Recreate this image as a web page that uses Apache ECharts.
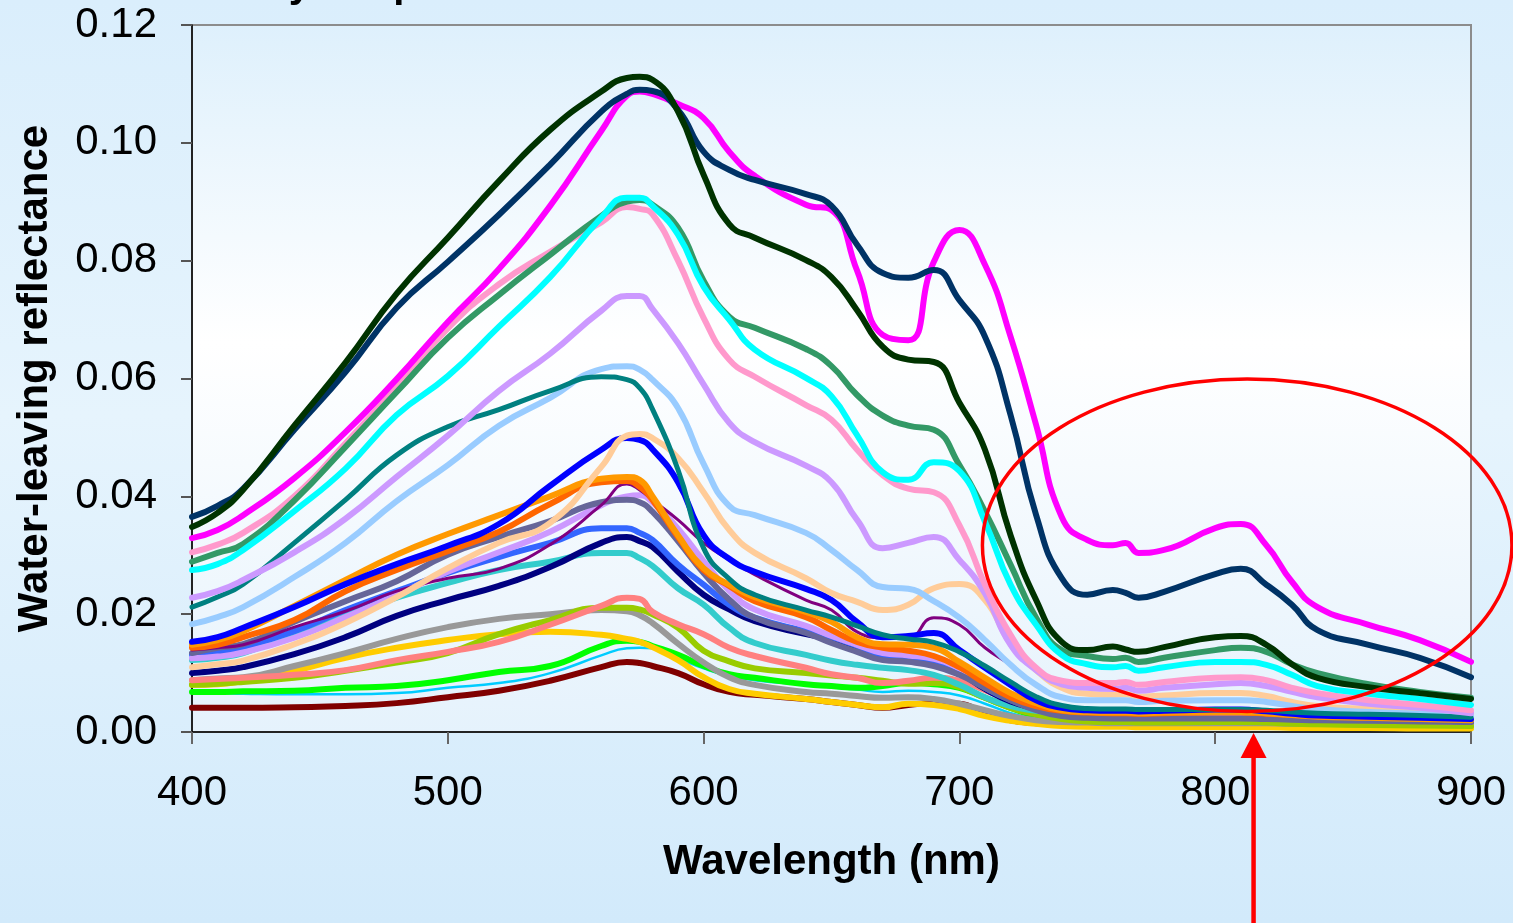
<!DOCTYPE html>
<html>
<head>
<meta charset="utf-8">
<title>Water-leaving reflectance</title>
<script src="https://cdn.jsdelivr.net/npm/echarts@6.0.0/dist/echarts.min.js"></script>
<style>
  html, body { margin: 0; padding: 0; overflow: hidden; }
  body { background: linear-gradient(to bottom, #daeefc 0%, #e6f4fd 45%, #d2eafb 100%); }
  #chart { width: 1513px; height: 923px; }
</style>
</head>
<body>
<div id="chart"></div>
<script>
// wavelengths (nm) the curves were read at
const wavelengths = [400,410,420,440,460,480,500,520,540,560,570,575,580,590,600,610,620,640,650,660,670,680,690,700,710,720,730,740,750,760,765,770,780,800,810,820,830,840,860,880,900];

// water-leaving reflectance, one array per station
const darkGreen = [0.0348,0.0372,0.0411,0.0520,0.0627,0.0744,0.0839,0.0935,0.1022,0.1087,0.1110,0.1112,0.1107,0.1053,0.0946,0.0862,0.0839,0.0801,0.0772,0.0716,0.0654,0.0632,0.0628,0.0559,0.0479,0.0334,0.0224,0.0153,0.0139,0.0145,0.0140,0.0136,0.0144,0.0161,0.0163,0.0148,0.0115,0.0092,0.0076,0.0066,0.0056];
const navyDark = [0.0365,0.0384,0.0413,0.0513,0.0611,0.0720,0.0798,0.0878,0.0963,0.1053,0.1083,0.1090,0.1088,0.1056,0.0985,0.0954,0.0937,0.0913,0.0893,0.0827,0.0779,0.0771,0.0784,0.0733,0.0671,0.0538,0.0368,0.0261,0.0233,0.0241,0.0236,0.0228,0.0238,0.0268,0.0277,0.0250,0.0216,0.0173,0.0148,0.0126,0.0093];
const magenta = [0.0329,0.0343,0.0368,0.0431,0.0509,0.0599,0.0696,0.0786,0.0893,0.1020,0.1080,0.1087,0.1083,0.1066,0.1042,0.0985,0.0944,0.0895,0.0886,0.0783,0.0674,0.0665,0.0798,0.0852,0.0793,0.0671,0.0521,0.0365,0.0326,0.0317,0.0321,0.0304,0.0309,0.0346,0.0353,0.0317,0.0255,0.0212,0.0182,0.0156,0.0119];
const cyan = [0.0275,0.0285,0.0309,0.0375,0.0447,0.0538,0.0604,0.0688,0.0772,0.0873,0.0907,0.0907,0.0893,0.0844,0.0756,0.0700,0.0649,0.0601,0.0570,0.0504,0.0441,0.0428,0.0458,0.0443,0.0357,0.0250,0.0182,0.0131,0.0115,0.0110,0.0112,0.0104,0.0110,0.0119,0.0119,0.0114,0.0097,0.0078,0.0065,0.0056,0.0046];
const seaGreen = [0.0289,0.0304,0.0319,0.0393,0.0484,0.0577,0.0669,0.0742,0.0810,0.0876,0.0900,0.0903,0.0895,0.0856,0.0766,0.0705,0.0686,0.0650,0.0621,0.0572,0.0537,0.0520,0.0513,0.0453,0.0374,0.0284,0.0194,0.0139,0.0129,0.0124,0.0126,0.0119,0.0126,0.0139,0.0143,0.0136,0.0115,0.0100,0.0081,0.0068,0.0058];
const pink = [0.0305,0.0318,0.0338,0.0400,0.0490,0.0585,0.0685,0.0760,0.0815,0.0865,0.0891,0.0888,0.0879,0.0800,0.0703,0.0632,0.0603,0.0555,0.0530,0.0479,0.0436,0.0413,0.0407,0.0351,0.0250,0.0165,0.0109,0.0087,0.0083,0.0083,0.0085,0.0080,0.0085,0.0092,0.0093,0.0088,0.0075,0.0066,0.0054,0.0046,0.0037];
const lavender = [0.0228,0.0239,0.0258,0.0305,0.0362,0.0433,0.0503,0.0579,0.0642,0.0715,0.0740,0.0740,0.0718,0.0660,0.0590,0.0525,0.0492,0.0452,0.0424,0.0360,0.0312,0.0321,0.0331,0.0292,0.0235,0.0148,0.0105,0.0081,0.0075,0.0073,0.0075,0.0070,0.0075,0.0081,0.0083,0.0078,0.0068,0.0059,0.0048,0.0041,0.0032];
const teal = [0.0212,0.0229,0.0251,0.0321,0.0394,0.0470,0.0518,0.0547,0.0579,0.0603,0.0598,0.0584,0.0548,0.0445,0.0312,0.0260,0.0233,0.0207,0.0195,0.0180,0.0165,0.0158,0.0152,0.0136,0.0112,0.0085,0.0060,0.0045,0.0040,0.0039,0.0039,0.0038,0.0038,0.0038,0.0038,0.0037,0.0034,0.0032,0.0030,0.0028,0.0025];
const lightBlue = [0.0183,0.0195,0.0212,0.0263,0.0321,0.0392,0.0453,0.0520,0.0567,0.0616,0.0621,0.0615,0.0598,0.0550,0.0455,0.0384,0.0368,0.0338,0.0309,0.0275,0.0246,0.0243,0.0222,0.0194,0.0156,0.0114,0.0080,0.0059,0.0054,0.0054,0.0054,0.0051,0.0053,0.0054,0.0054,0.0051,0.0044,0.0039,0.0034,0.0031,0.0027];
const peach = [0.0110,0.0115,0.0121,0.0149,0.0185,0.0229,0.0278,0.0321,0.0355,0.0450,0.0503,0.0506,0.0499,0.0465,0.0407,0.0343,0.0304,0.0261,0.0236,0.0221,0.0207,0.0216,0.0244,0.0251,0.0224,0.0150,0.0105,0.0075,0.0065,0.0063,0.0064,0.0060,0.0062,0.0066,0.0066,0.0061,0.0051,0.0044,0.0039,0.0036,0.0032];
const blue = [0.0153,0.0161,0.0177,0.0212,0.0251,0.0285,0.0316,0.0353,0.0418,0.0479,0.0499,0.0496,0.0480,0.0424,0.0334,0.0294,0.0272,0.0243,0.0224,0.0187,0.0161,0.0163,0.0168,0.0139,0.0109,0.0080,0.0054,0.0041,0.0037,0.0036,0.0036,0.0035,0.0036,0.0038,0.0038,0.0035,0.0031,0.0028,0.0026,0.0024,0.0022];
const orange = [0.0148,0.0156,0.0171,0.0214,0.0258,0.0301,0.0336,0.0368,0.0400,0.0430,0.0433,0.0428,0.0400,0.0334,0.0278,0.0250,0.0229,0.0204,0.0187,0.0161,0.0149,0.0148,0.0143,0.0119,0.0092,0.0066,0.0049,0.0037,0.0034,0.0033,0.0033,0.0032,0.0033,0.0034,0.0034,0.0032,0.0029,0.0026,0.0024,0.0022,0.0020];
const darkOrange = [0.0143,0.0148,0.0161,0.0190,0.0239,0.0275,0.0307,0.0340,0.0387,0.0424,0.0426,0.0416,0.0394,0.0331,0.0275,0.0248,0.0222,0.0195,0.0173,0.0153,0.0143,0.0138,0.0129,0.0110,0.0083,0.0059,0.0044,0.0036,0.0033,0.0032,0.0032,0.0031,0.0032,0.0033,0.0033,0.0031,0.0029,0.0027,0.0025,0.0024,0.0023];
const purple = [0.0139,0.0143,0.0148,0.0178,0.0205,0.0239,0.0261,0.0277,0.0318,0.0385,0.0421,0.0411,0.0394,0.0360,0.0321,0.0292,0.0267,0.0224,0.0207,0.0170,0.0160,0.0160,0.0194,0.0182,0.0143,0.0114,0.0081,0.0059,0.0053,0.0053,0.0053,0.0051,0.0053,0.0054,0.0054,0.0051,0.0044,0.0039,0.0034,0.0031,0.0025];
const slate = [0.0134,0.0143,0.0149,0.0187,0.0222,0.0256,0.0301,0.0331,0.0358,0.0390,0.0394,0.0390,0.0374,0.0324,0.0270,0.0225,0.0194,0.0168,0.0151,0.0136,0.0122,0.0119,0.0112,0.0097,0.0075,0.0054,0.0037,0.0027,0.0024,0.0023,0.0023,0.0023,0.0023,0.0023,0.0023,0.0022,0.0021,0.0020,0.0019,0.0018,0.0017];
const lavender2 = [0.0125,0.0128,0.0135,0.0160,0.0195,0.0232,0.0272,0.0305,0.0340,0.0385,0.0400,0.0402,0.0390,0.0345,0.0290,0.0240,0.0208,0.0180,0.0163,0.0148,0.0134,0.0130,0.0124,0.0108,0.0083,0.0060,0.0043,0.0033,0.0029,0.0028,0.0028,0.0027,0.0028,0.0029,0.0029,0.0027,0.0025,0.0024,0.0022,0.0021,0.0020];
const royalBlue = [0.0131,0.0136,0.0144,0.0171,0.0207,0.0239,0.0270,0.0297,0.0321,0.0346,0.0346,0.0338,0.0326,0.0284,0.0250,0.0216,0.0194,0.0171,0.0161,0.0146,0.0127,0.0126,0.0117,0.0102,0.0075,0.0054,0.0041,0.0032,0.0030,0.0029,0.0029,0.0028,0.0029,0.0030,0.0030,0.0028,0.0026,0.0024,0.0022,0.0021,0.0020];
const navy = [0.0100,0.0104,0.0110,0.0132,0.0161,0.0197,0.0224,0.0248,0.0280,0.0321,0.0331,0.0324,0.0314,0.0272,0.0233,0.0208,0.0188,0.0166,0.0157,0.0143,0.0125,0.0122,0.0114,0.0100,0.0073,0.0052,0.0040,0.0031,0.0028,0.0027,0.0027,0.0026,0.0027,0.0028,0.0028,0.0026,0.0024,0.0022,0.0021,0.0020,0.0018];
const turquoise = [0.0122,0.0126,0.0134,0.0166,0.0197,0.0228,0.0253,0.0275,0.0289,0.0304,0.0304,0.0295,0.0282,0.0244,0.0216,0.0177,0.0151,0.0131,0.0121,0.0114,0.0109,0.0105,0.0097,0.0080,0.0059,0.0044,0.0036,0.0031,0.0029,0.0028,0.0028,0.0027,0.0028,0.0028,0.0028,0.0027,0.0025,0.0023,0.0021,0.0020,0.0018];
const salmon = [0.0088,0.0090,0.0092,0.0097,0.0105,0.0122,0.0136,0.0153,0.0182,0.0214,0.0228,0.0226,0.0204,0.0183,0.0166,0.0143,0.0129,0.0109,0.0098,0.0092,0.0083,0.0087,0.0092,0.0087,0.0071,0.0054,0.0041,0.0032,0.0029,0.0028,0.0028,0.0027,0.0028,0.0029,0.0029,0.0027,0.0025,0.0023,0.0021,0.0019,0.0017];
const yellowGreen = [0.0080,0.0082,0.0085,0.0092,0.0104,0.0118,0.0134,0.0166,0.0190,0.0211,0.0211,0.0208,0.0200,0.0177,0.0138,0.0120,0.0108,0.0100,0.0096,0.0092,0.0087,0.0082,0.0083,0.0076,0.0058,0.0041,0.0030,0.0022,0.0018,0.0017,0.0017,0.0016,0.0016,0.0017,0.0017,0.0016,0.0014,0.0013,0.0012,0.0011,0.0010];
const gray = [0.0088,0.0091,0.0093,0.0112,0.0134,0.0158,0.0178,0.0192,0.0200,0.0207,0.0205,0.0198,0.0185,0.0150,0.0118,0.0093,0.0080,0.0068,0.0065,0.0061,0.0058,0.0059,0.0056,0.0048,0.0037,0.0027,0.0020,0.0017,0.0016,0.0015,0.0015,0.0015,0.0015,0.0015,0.0015,0.0015,0.0014,0.0014,0.0013,0.0013,0.0012];
const gold = [0.0080,0.0081,0.0087,0.0104,0.0126,0.0143,0.0156,0.0166,0.0170,0.0165,0.0158,0.0153,0.0144,0.0122,0.0093,0.0073,0.0065,0.0056,0.0051,0.0046,0.0042,0.0048,0.0046,0.0039,0.0027,0.0019,0.0014,0.0010,0.0009,0.0009,0.0009,0.0008,0.0008,0.0008,0.0008,0.0008,0.0007,0.0007,0.0007,0.0006,0.0006];
const green = [0.0068,0.0068,0.0069,0.0070,0.0075,0.0078,0.0088,0.0102,0.0112,0.0146,0.0155,0.0153,0.0146,0.0131,0.0112,0.0098,0.0092,0.0081,0.0078,0.0075,0.0078,0.0083,0.0081,0.0075,0.0058,0.0041,0.0027,0.0020,0.0017,0.0016,0.0016,0.0015,0.0015,0.0015,0.0015,0.0014,0.0013,0.0012,0.0011,0.0011,0.0010];
const sky = [0.0066,0.0066,0.0065,0.0064,0.0064,0.0066,0.0075,0.0083,0.0100,0.0130,0.0142,0.0143,0.0142,0.0125,0.0108,0.0095,0.0088,0.0080,0.0076,0.0072,0.0068,0.0070,0.0068,0.0062,0.0048,0.0032,0.0021,0.0015,0.0013,0.0012,0.0012,0.0012,0.0012,0.0012,0.0012,0.0011,0.0010,0.0010,0.0009,0.0009,0.0008];
const maroon = [0.0041,0.0041,0.0041,0.0042,0.0044,0.0049,0.0059,0.0070,0.0087,0.0110,0.0119,0.0117,0.0112,0.0100,0.0081,0.0068,0.0063,0.0056,0.0051,0.0046,0.0041,0.0046,0.0049,0.0048,0.0031,0.0020,0.0015,0.0012,0.0011,0.0011,0.0011,0.0010,0.0010,0.0010,0.0010,0.0010,0.0009,0.0009,0.0009,0.0008,0.0008];

// drawing order, bottom first: [values, colour, line width]
const curves = [
  [maroon, '#800000', 6], [sky, '#00CCFF', 2.5], [green, '#00FF00', 6], [gold, '#FFCC00', 6],
  [gray, '#999999', 6], [yellowGreen, '#99CC00', 6], [salmon, '#FF8080', 6], [turquoise, '#33CCCC', 6],
  [navy, '#000080', 6], [royalBlue, '#3366FF', 6], [lavender2, '#CC99FF', 6], [slate, '#666699', 6],
  [purple, '#800080', 3], [darkOrange, '#FF6600', 6], [orange, '#FF9900', 6], [blue, '#0000FF', 6],
  [peach, '#FFCC99', 6], [lightBlue, '#99CCFF', 6], [teal, '#008080', 5], [lavender, '#CC99FF', 6],
  [pink, '#FF99CC', 6], [seaGreen, '#339966', 6], [cyan, '#00FFFF', 6], [magenta, '#FF00FF', 6],
  [navyDark, '#003366', 6], [darkGreen, '#003300', 6]
];

const FONT = '"Liberation Sans", Arial, sans-serif';

const chart = echarts.init(document.getElementById('chart'));

const option = {
  animation: false,
  grid: {
    left: 192, right: 42, top: 25, bottom: 191,
    show: true,
    borderColor: '#8c8c8c',
    borderWidth: 2,
    backgroundColor: {
      type: 'linear', x: 0, y: 0, x2: 0, y2: 1,
      colorStops: [
        { offset: 0, color: '#def0fc' },
        { offset: 0.45, color: '#ffffff' },
        { offset: 1, color: '#e5f2fc' }
      ]
    }
  },
  xAxis: {
    type: 'value', min: 400, max: 900, interval: 100,
    name: 'Wavelength (nm)', nameLocation: 'middle', nameGap: 109,
    nameTextStyle: { fontFamily: FONT, fontWeight: 'bold', fontSize: 42, color: '#000' },
    axisLine: { show: true, onZero: false, lineStyle: { color: '#000', width: 1.5 } },
    axisTick: { show: true, length: 12, lineStyle: { color: '#666', width: 2 } },
    axisLabel: { fontFamily: FONT, fontSize: 42, color: '#000', margin: 40 },
    splitLine: { show: false }
  },
  yAxis: {
    type: 'value', min: 0, max: 0.12, interval: 0.02,
    name: 'Water-leaving reflectance', nameLocation: 'middle', nameGap: 136,
    nameTextStyle: { fontFamily: FONT, fontWeight: 'bold', fontSize: 42, color: '#000' },
    axisLine: { show: true, lineStyle: { color: '#000', width: 1.5 } },
    axisTick: { show: true, length: 11, lineStyle: { color: '#555', width: 2 } },
    axisLabel: { fontFamily: FONT, fontSize: 42, color: '#000', margin: 35,
      formatter: v => v.toFixed(2) },
    splitLine: { show: false }
  },
  series: curves.map(([vals, color, width]) => ({
    type: 'line',
    data: wavelengths.map((w, i) => [w, vals[i]]),
    showSymbol: false,
    smooth: 0.5,
    lineStyle: { color: color, width: width, join: 'round', cap: 'round' },
    emphasis: { disabled: true }
  }))
};

chart.setOption(option);

// annotations: title remnant, ellipse round the NIR part, arrow at ~815 nm
const c = chart.convertToPixel({ gridIndex: 0 }, [812.5, 0.0317]);
const l = chart.convertToPixel({ gridIndex: 0 }, [709, 0.0599]);
const b = chart.convertToPixel({ gridIndex: 0 }, [815, 0]);

chart.setOption({
  graphic: [
    {
      type: 'text', left: 122, top: -34, z: 10,
      style: { text: 'Variability of spectra', font: 'bold 40px ' + FONT, fill: '#000' }
    },
    {
      type: 'ellipse', z: 100,
      shape: { cx: c[0], cy: c[1], rx: c[0] - l[0], ry: c[1] - l[1] },
      style: { fill: 'none', stroke: '#ff0000', lineWidth: 3.5 }
    },
    {
      type: 'line', z: 100,
      shape: { x1: b[0], y1: b[1] + 22, x2: b[0], y2: 923 },
      style: { stroke: '#ff0000', lineWidth: 4.5 }
    },
    {
      type: 'polygon', z: 100,
      shape: { points: [[b[0], b[1] + 1], [b[0] - 13, b[1] + 26], [b[0] + 13, b[1] + 26]] },
      style: { fill: '#ff0000' }
    }
  ]
});
</script>
</body>
</html>
